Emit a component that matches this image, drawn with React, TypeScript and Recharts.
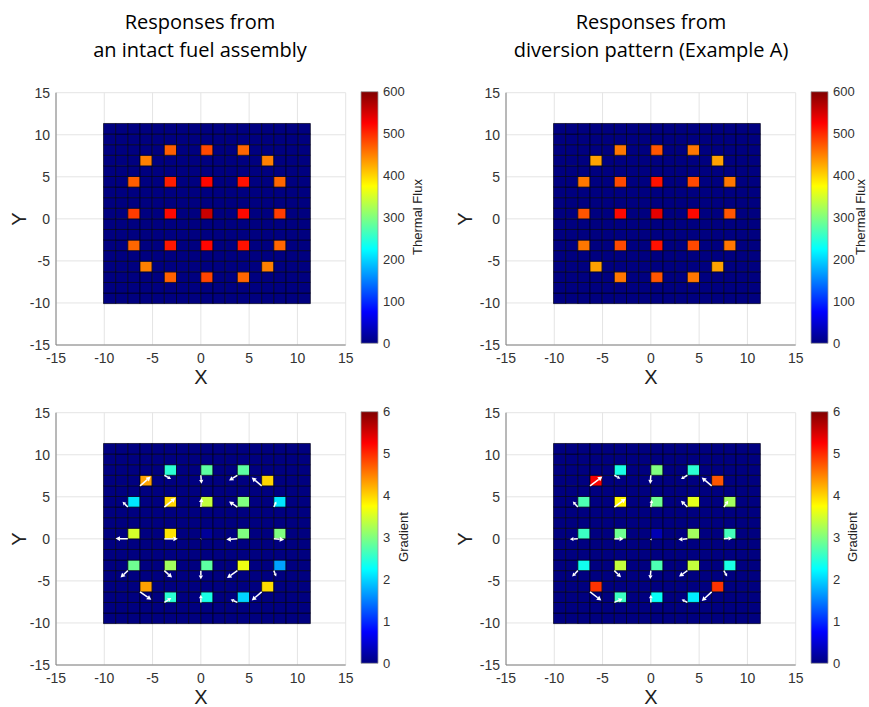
import {
  Bar,
  BarChart,
  CartesianGrid,
  ComposedChart,
  ReferenceArea,
  ReferenceLine,
  XAxis,
  YAxis,
} from 'recharts'

// 17x17 lattice, pcolor-style: each cell drawn from its vertex (x, y) to (x + pitch, y + pitch)
const GRID_SIZE = 17
const PITCH = 1.26
const GRID_ORIGIN = -10.08

const AXIS_TICKS = [-15, -10, -5, 0, 5, 10, 15]
const FLUX_TICKS = [0, 100, 200, 300, 400, 500, 600]
const GRAD_TICKS = [0, 1, 2, 3, 4, 5, 6]

// guide tube positions (lattice column / row, row counted from the bottom)
const TUBE_COL = [5, 8, 11, 3, 13, 2, 5, 8, 11, 14, 2, 5, 8, 11, 14, 2, 5, 8, 11, 14, 3, 13, 5, 8, 11]
const TUBE_ROW = [14, 14, 14, 13, 13, 11, 11, 11, 11, 11, 8, 8, 8, 8, 8, 5, 5, 5, 5, 5, 3, 3, 2, 2, 2]

const FLUX_INTACT = [470, 482, 465, 450, 450, 470, 508, 522, 515, 465, 490, 520, 557, 520, 490, 465, 512, 522, 515, 465, 450, 450, 468, 485, 465]
const FLUX_DIVERTED = [455, 475, 455, 430, 430, 455, 482, 515, 482, 455, 475, 520, 540, 520, 475, 455, 482, 515, 482, 455, 430, 430, 455, 475, 455]

const GRAD_INTACT = [2.5, 2.8, 2.8, 4.3, 4.0, 2.1, 4.0, 3.4, 3.0, 2.1, 3.5, 3.9, 0.15, 3.0, 3.0, 2.9, 3.2, 2.8, 3.65, 1.7, 4.3, 3.95, 2.5, 2.4, 2.0]
const GRAD_DIVERTED = [2.4, 3.0, 2.5, 5.3, 4.75, 2.7, 3.8, 2.9, 3.6, 3.2, 2.6, 2.9, 0.3, 3.2, 2.65, 2.35, 3.4, 2.7, 3.4, 2.4, 4.95, 4.95, 2.6, 2.3, 2.15]

// gradient direction arrows (quiver u / v, in axis units)
const U_INTACT = [0.7, 0.07, -0.86, 1.1, -1.03, -0.55, 1.14, 0.07, -0.86, 0.25, -1.28, 1.4, 0.05, -1.14, 1.07, -0.76, 0.8, 0, -1.07, 0.24, 1.17, -1.03, 0.72, 0, -0.69]
const V_INTACT = [-0.44, -1.0, -0.63, 1.1, 1.0, 0.63, 1.07, 1.07, 0.67, 0.67, 0.04, 0, 0.05, -0.08, -0.1, -0.83, -0.83, -1.03, -0.87, -0.71, -0.95, -1.03, 0.52, 0.9, 0.36]
const U_DIVERTED = [0.62, -0.07, -0.66, 1.28, -1.03, -0.52, 1.17, 0.1, -0.66, 0.45, -0.83, 0.97, 0.07, -0.93, 0.86, -0.59, 0.69, -0.07, -0.86, 0.34, 1.17, -1.03, 0.86, 0, -0.59]
const V_DIVERTED = [-0.4, -1.03, -0.44, 1.1, 1.0, 0.67, 1.0, 0.87, 0.75, 0.75, -0.04, 0, -0.2, -0.08, 0.08, -0.71, -0.79, -1.0, -0.71, -0.71, -1.03, -1.1, 0.44, 0.9, 0.36]

const FONT = '"Liberation Sans", Arial, sans-serif'
const TEXT = '#333'

const clamp = (v: number) => Math.max(0, Math.min(1, v))

function jet(t: number) {
  const r = clamp(Math.min(4 * t - 1.5, -4 * t + 4.5))
  const g = clamp(Math.min(4 * t - 0.5, -4 * t + 3.5))
  const b = clamp(Math.min(4 * t + 0.5, -4 * t + 2.5))
  const h = (c: number) => Math.round(c * 255).toString(16).padStart(2, '0')
  return `#${h(r)}${h(g)}${h(b)}`
}

const JET_STOPS = [0, 0.125, 0.375, 0.625, 0.875, 1]

function buildCells(values: number[]) {
  const cells = []
  for (let i = 0; i < GRID_SIZE; i++) {
    for (let j = 0; j < GRID_SIZE; j++) {
      const k = TUBE_COL.findIndex((c, n) => c === i && TUBE_ROW[n] === j)
      cells.push({
        x: GRID_ORIGIN + i * PITCH,
        y: GRID_ORIGIN + j * PITCH,
        value: k >= 0 ? values[k] : 0,
      })
    }
  }
  return cells
}

function ArrowMark(p: any) {
  const { x1, y1, x2, y2 } = p
  const dx = x2 - x1
  const dy = y2 - y1
  const len = Math.hypot(dx, dy) || 1
  const ux = dx / len
  const uy = dy / len
  const h = Math.min(4.5, len * 0.45)
  const w = h * 0.55
  const bx = x2 - ux * h
  const by = y2 - uy * h
  return (
    <g>
      <line x1={x1} y1={y1} x2={bx} y2={by} stroke="#fff" strokeWidth={1.5} />
      <polygon
        points={`${x2},${y2} ${bx - uy * w},${by + ux * w} ${bx + uy * w},${by - ux * w}`}
        fill="#fff"
      />
    </g>
  )
}

function HeatPanel({
  left,
  top,
  values,
  max,
  u,
  v,
}: {
  left: number
  top: number
  values: number[]
  max: number
  u?: number[]
  v?: number[]
}) {
  const cells = buildCells(values)
  return (
    <div style={{ position: 'absolute', left, top }}>
      <ComposedChart
        width={360}
        height={300}
        data={cells}
        margin={{ top: 12.7, right: 14.3, bottom: 0, left: 16 }}
      >
        <CartesianGrid stroke="#e4e4e4" />
        <XAxis
          type="number"
          dataKey="x"
          domain={[-15, 15]}
          ticks={AXIS_TICKS}
          height={35}
          stroke="#808080"
          tickLine={false}
          tickSize={6}
          tick={{ fontSize: 14, fill: TEXT, fontFamily: FONT }}
        />
        <YAxis
          type="number"
          dataKey="y"
          domain={[-15, 15]}
          ticks={AXIS_TICKS}
          width={40}
          stroke="#808080"
          tickLine={false}
          tickSize={4}
          tick={{ fontSize: 14, fill: TEXT, fontFamily: FONT }}
        />
        {cells.map((c, n) => (
          <ReferenceArea
            key={n}
            x1={c.x}
            x2={c.x + PITCH}
            y1={c.y}
            y2={c.y + PITCH}
            fill={jet(c.value / max)}
            fillOpacity={1}
            stroke="#000018"
            strokeWidth={0.7}
          />
        ))}
        {u &&
          v &&
          TUBE_COL.map((col, n) => {
            const x = GRID_ORIGIN + col * PITCH
            const y = GRID_ORIGIN + TUBE_ROW[n] * PITCH
            return (
              <ReferenceLine
                key={`a${n}`}
                segment={[
                  { x, y },
                  { x: x + u[n], y: y + v[n] },
                ]}
                shape={(p: any) => <ArrowMark {...p} />}
              />
            )
          })}
      </ComposedChart>
    </div>
  )
}

function ColorBar({
  id,
  left,
  top,
  max,
  ticks,
}: {
  id: string
  left: number
  top: number
  max: number
  ticks: number[]
}) {
  return (
    <div style={{ position: 'absolute', left, top }}>
      <BarChart
        width={51}
        height={300}
        data={[{ name: 'c', v: max }]}
        margin={{ top: 11.7, right: 0, bottom: 36.7, left: 4 }}
        barCategoryGap={0}
      >
        <defs>
          <linearGradient id={id} x1="0" y1="1" x2="0" y2="0">
            {JET_STOPS.map((s) => (
              <stop key={s} offset={s} stopColor={jet(s)} />
            ))}
          </linearGradient>
        </defs>
        <XAxis dataKey="name" hide />
        <YAxis
          orientation="right"
          domain={[0, max]}
          ticks={ticks}
          width={30}
          axisLine={false}
          tickLine={false}
          tickSize={2}
          tickMargin={3}
          tick={{ fontSize: 13, fill: TEXT, fontFamily: FONT }}
        />
        <Bar
          dataKey="v"
          fill={`url(#${id})`}
          stroke="#9a9a9a"
          strokeWidth={0.8}
          isAnimationActive={false}
        />
      </BarChart>
    </div>
  )
}

function Txt({
  x,
  y,
  size,
  rotate,
  children,
}: {
  x: number
  y: number
  size: number
  rotate?: boolean
  children: string
}) {
  return (
    <div
      style={{
        position: 'absolute',
        left: x,
        top: y,
        transform: `translate(-50%, -50%)${rotate ? ' rotate(-90deg)' : ''}`,
        fontSize: size,
        fontFamily: FONT,
        color: '#222',
        whiteSpace: 'nowrap',
        lineHeight: 1,
      }}
    >
      {children}
    </div>
  )
}

function Title({ x, lines }: { x: number; lines: string[] }) {
  return (
    <div
      style={{
        position: 'absolute',
        left: x,
        top: 8,
        transform: 'translateX(-50%)',
        textAlign: 'center',
        fontSize: 20,
        lineHeight: '28px',
        fontFamily: '"Open Sans", sans-serif',
        color: '#000',
        whiteSpace: 'nowrap',
      }}
    >
      {lines.map((l) => (
        <div key={l}>{l}</div>
      ))}
    </div>
  )
}

export default function App() {
  return (
    <div
      style={{
        position: 'absolute',
        left: 0,
        top: 0,
        width: 869,
        height: 707,
        overflow: 'hidden',
        background: '#fff',
      }}
    >
      <Title x={200} lines={['Responses from', 'an intact fuel assembly']} />
      <Title x={651} lines={['Responses from', 'diversion pattern (Example A)']} />

      <HeatPanel left={0} top={80} values={FLUX_INTACT} max={600} />
      <HeatPanel left={450} top={80} values={FLUX_DIVERTED} max={600} />
      <HeatPanel left={0} top={400} values={GRAD_INTACT} max={6} u={U_INTACT} v={V_INTACT} />
      <HeatPanel left={450} top={400} values={GRAD_DIVERTED} max={6} u={U_DIVERTED} v={V_DIVERTED} />

      <ColorBar id="jet1" left={356.7} top={80} max={600} ticks={FLUX_TICKS} />
      <ColorBar id="jet2" left={807} top={80} max={600} ticks={FLUX_TICKS} />
      <ColorBar id="jet3" left={357} top={400} max={6} ticks={GRAD_TICKS} />
      <ColorBar id="jet4" left={807} top={400} max={6} ticks={GRAD_TICKS} />

      <Txt x={19} y={219} size={20} rotate>Y</Txt>
      <Txt x={465} y={219} size={20} rotate>Y</Txt>
      <Txt x={19} y={539} size={20} rotate>Y</Txt>
      <Txt x={465} y={539} size={20} rotate>Y</Txt>
      <Txt x={201} y={377} size={20}>X</Txt>
      <Txt x={651} y={377} size={20}>X</Txt>
      <Txt x={201} y={697} size={20}>X</Txt>
      <Txt x={651} y={697} size={20}>X</Txt>

      <Txt x={417} y={217} size={13} rotate>Thermal Flux</Txt>
      <Txt x={860} y={217} size={13} rotate>Thermal Flux</Txt>
      <Txt x={403} y={537} size={13} rotate>Gradient</Txt>
      <Txt x={852} y={537} size={13} rotate>Gradient</Txt>
    </div>
  )
}
